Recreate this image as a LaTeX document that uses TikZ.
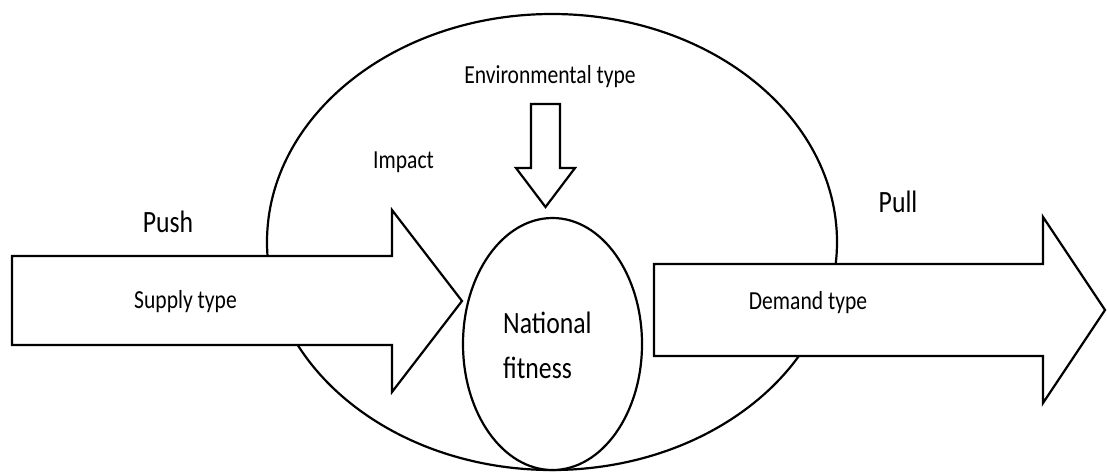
\documentclass[tikz,border=0pt]{standalone}
\usepackage{fontspec}
\setmainfont{Carlito}[FakeStretch=0.83]
\begin{document}
\begin{tikzpicture}[x=1pt,y=-1pt,
  shapeline/.style={draw=black,line width=2.2pt,fill=white,line join=miter},
  lbl/.style={inner sep=0pt,anchor=base,text=black},
  fsA/.style={font=\fontsize{31}{37}\selectfont},
  fsB/.style={font=\fontsize{26}{31}\selectfont},
  fsC/.style={font=\fontsize{31}{45}\selectfont}]
\useasboundingbox (0,0) rectangle (1107,472);
% big ellipse
\draw[shapeline] (552,242) ellipse [x radius=285, y radius=228];
% left arrow (push)
\draw[shapeline] (12,256) -- (392,256) -- (392,210) -- (462,301) -- (392,392) -- (392,345) -- (12,345) -- cycle;
% right arrow (pull)
\draw[shapeline] (654,264) -- (1043,264) -- (1043,217) -- (1105,310) -- (1043,403) -- (1043,356) -- (654,356) -- cycle;
% down arrow (environment)
\draw[shapeline] (531,104) -- (560,104) -- (560,168) -- (575,168) -- (545.5,207) -- (516,168) -- (531,168) -- cycle;
% small ellipse
\draw[shapeline] (552.5,344) ellipse [x radius=89.5, y radius=126];
% labels
\node[lbl,fsA] (push) at (168,232) {Push};
\node[lbl,fsA] (pull) at (898,212) {Pull};
\node[lbl,fsB] (supply) at (185.5,308) {Supply type};
\node[lbl,fsB] (demand) at (808,309) {Demand type};
\node[lbl,fsB] (env) at (550,83) {Environmental type};
\node[lbl,fsB] (impact) at (403.5,168) {Impact};
\node[lbl,fsC,anchor=base west] (nat1) at (503,333) {National};
\node[lbl,fsC,anchor=base west] (nat2) at (503,378) {fitness};
\end{tikzpicture}
\end{document}
